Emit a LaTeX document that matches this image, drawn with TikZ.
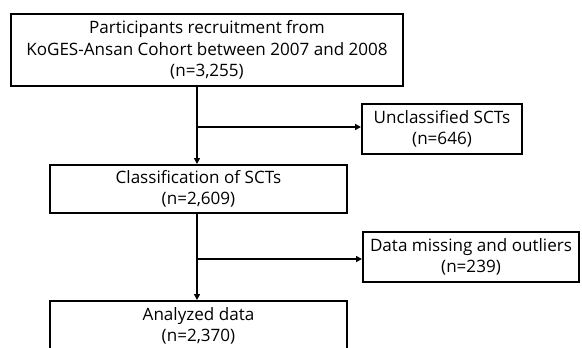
\documentclass[tikz,border=0pt]{standalone}
\usepackage{fontspec}
\setmainfont{Open Sans}
\usetikzlibrary{arrows.meta}
\begin{document}
\begin{tikzpicture}[x=0.75pt,y=-0.75pt,
  box/.style={draw=black,line width=1.5pt,rectangle,inner sep=0pt,align=center,
    font=\fontsize{12.8pt}{16.2pt}\selectfont},
  conn/.style={draw=black,line width=1.1pt,-{Triangle[length=4.5pt,width=4.5pt]}}]
\useasboundingbox (0,0) rectangle (582,347);
\fill[white] (0,0) rectangle (582,347);
\begin{scope}
\clip (0,0) rectangle (582,347);
\node[box,minimum width=294pt,minimum height=54pt] (b1) at (207,50)
  {Participants recruitment from\\KoGES-Ansan Cohort between 2007 and 2008\\(n=3,255)};
\node[box,minimum width=120pt,minimum height=37.5pt] (b2) at (442,129)
  {Unclassified SCTs\\(n=646)};
\node[box,minimum width=222.75pt,minimum height=36pt] (b3) at (198.5,189)
  {Classification of SCTs\\(n=2,609)};
\node[box,minimum width=162pt,minimum height=37.5pt] (b4) at (471,257)
  {Data missing and outliers\\(n=239)};
\node[box,minimum width=222.75pt,minimum height=37.5pt] (b5) at (198.5,326)
  {Analyzed data\\(n=2,370)};
\coordinate (j1) at (197,127);
\coordinate (j2) at (197,259);
\draw[conn] (b1.south -| j1) -- (b3.north -| j1);
\draw[conn] (j1) -- (j1 -| b2.west);
\draw[conn] (b3.south -| j2) -- (b5.north -| j2);
\draw[conn] (j2) -- (j2 -| b4.west);
\end{scope}
\end{tikzpicture}
\end{document}
